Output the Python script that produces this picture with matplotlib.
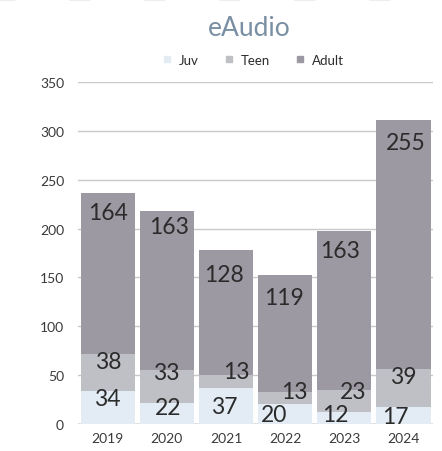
import matplotlib
matplotlib.use("Agg")
import matplotlib.pyplot as plt
from matplotlib.lines import Line2D
import numpy as np

plt.rcParams["font.family"] = ["Lato", "DejaVu Sans"]

years = ["2019", "2020", "2021", "2022", "2023", "2024"]
juv = [34, 22, 37, 20, 12, 17]
teen = [38, 33, 13, 13, 23, 39]
adult = [164, 163, 128, 119, 163, 255]

series_names = ["Juv", "Teen", "Adult"]
colors = ["#E3ECF4", "#BFBFC6", "#9D99A3"]

# label nudges in pixels (dx, dy below the segment top)
label_nudge = {
    "Juv": [(0, 8), (1, 5), (-2, 19), (-11, 10), (-9, 2), (-8, 9)],
    "Teen": [(1, 8), (-1, 2), (10, -4), (9, 0), (9, 2), (0, 7)],
    "Adult": [(0, 19), (2, 16), (-2, 24), (-1, 22), (-4, 20), (2, 22)],
}

fig = plt.figure(figsize=(4.42, 4.52), dpi=100)
ax = fig.add_axes([0.1765, 0.0597, 0.8035, 0.7567])

x = np.arange(len(years))
bottom = np.zeros(len(years))
for name, vals, col in zip(series_names, [juv, teen, adult], colors):
    ax.bar(x, vals, width=0.915, bottom=bottom, color=col, zorder=2)
    tops = bottom + np.array(vals)
    for i, v in enumerate(vals):
        dx, dy = label_nudge[name][i]
        ax.annotate(str(v), (x[i], tops[i]), xytext=(dx, -dy),
                    textcoords="offset pixels", ha="center", va="center",
                    fontsize=16.5, color="#2B2B2B", zorder=3)
    bottom = tops

ax.set_ylim(0, 350)
ax.set_xlim(-0.5, len(years) - 0.5)
ax.set_yticks(range(0, 351, 50))
ax.set_xticks(x)
ax.set_xticklabels(years)
ax.grid(axis="y", color="#C9C9C9", linewidth=1, zorder=0)
ax.set_axisbelow(True)
for s in ax.spines.values():
    s.set_visible(False)
ax.axhline(0, color="#808080", linewidth=1, zorder=0.5)
ax.tick_params(axis="both", length=0, labelsize=10, colors="#3A3A3A")
ax.tick_params(axis="y", pad=10)
ax.tick_params(axis="x", pad=6)

fig.text(0.565, 0.936, "eAudio", ha="center", va="center",
         fontsize=19, color="#7A8FA3")

handles = [Line2D([], [], marker="s", linestyle="none", markersize=4.5,
                  color=c) for c in colors]
fig.legend(handles, series_names, loc="center", bbox_to_anchor=(0.57, 0.865),
           ncol=3, frameon=False, fontsize=9.5, handletextpad=0.4,
           columnspacing=1.8, handlelength=1.0, labelcolor="#2B2B2B")

# faint dotted border along the top edge
fig.add_artist(Line2D([0, 1], [0.999, 0.999], transform=fig.transFigure,
                      color="#EBEBEB", linewidth=2,
                      linestyle=(2, (7, 20)), solid_capstyle="round",
                      dash_capstyle="round"))

fig.savefig("out.png", dpi=100)
